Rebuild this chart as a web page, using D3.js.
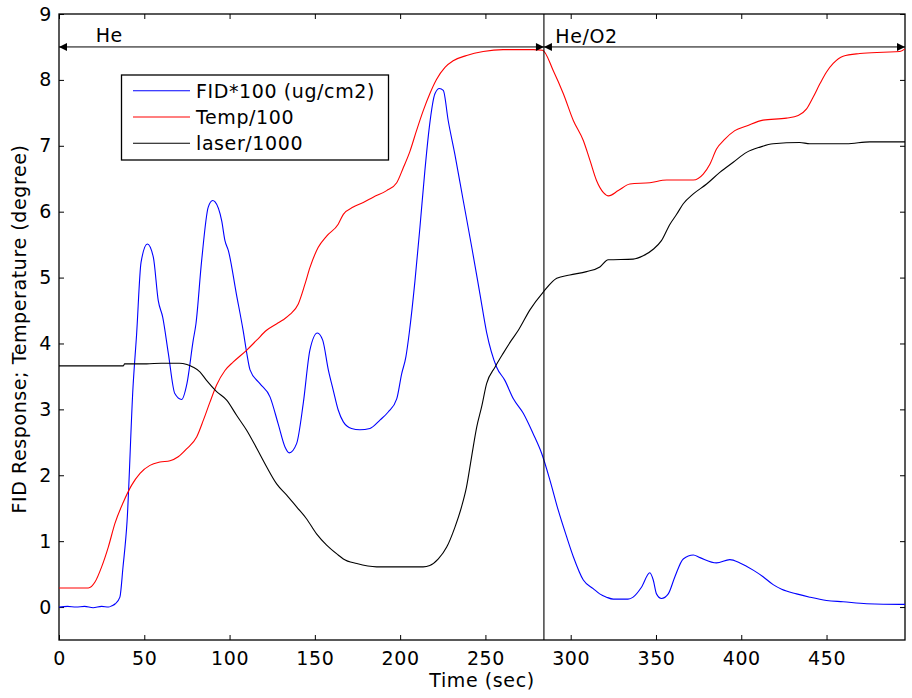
<!DOCTYPE html>
<html>
<head>
<meta charset="utf-8">
<script src="https://cdn.jsdelivr.net/npm/d3@7/dist/d3.min.js"></script>
<style>
  html, body { margin: 0; padding: 0; background: #fff; }
  svg text { font-family: "DejaVu Sans", Verdana, sans-serif; letter-spacing: 0.6px; }
</style>
</head>
<body>
<svg id="chart" width="912" height="698"></svg>
<script>
// ---- Data ----
const fidTime = [0,5,10,15,20,25,29,31,33,35.7,37.5,39.9,43.4,45.5,48.1,51.8,55.3,58.2,60.8,64.1,67.9,71.9,75,78.7,80.3,83.6,87.5,90.1,91.5,95.4,97.3,99.3,104,108,110.1,112,117.8,123.7,128.5,132.5,135,139.3,143.2,147.1,151.5,154.6,157.9,160.8,163.7,166.7,171.5,176.4,182.3,188.3,193,198,200.9,203.4,205.4,208.7,211.6,214.5,217.1,220.4,223,225.3,228.2,232.1,237,242,246.8,250.7,256.6,261.4,266.4,272.2,278,283,287.9,292.7,297.7,301.6,307.4,313.2,317,321,325,333.6,336.6,341.5,346.4,348.4,350.3,353.2,357.2,361.1,366,371.9,375.8,385.5,393.3,399.2,407,412.8,418.7,423.7,432.4,440.2,450,459.7,473.5,493,496];
const fidValue = [0,0.01,0,0.01,-0.01,0.01,0,0.02,0.05,0.15,0.6,1.3,3.34,4.14,5.23,5.51,5.31,4.65,4.4,3.85,3.24,3.15,3.39,4.05,4.3,5.25,6.07,6.17,6.15,5.86,5.56,5.41,4.75,4.19,3.85,3.6,3.39,3.19,2.78,2.43,2.34,2.48,3.09,3.9,4.16,4.05,3.6,3.29,2.99,2.81,2.71,2.69,2.71,2.84,2.96,3.16,3.54,3.8,4.17,4.95,5.76,6.62,7.28,7.79,7.87,7.84,7.38,6.87,6.17,5.46,4.75,4.17,3.64,3.44,3.16,2.94,2.63,2.33,1.92,1.47,1.06,0.76,0.41,0.28,0.2,0.15,0.12,0.12,0.15,0.3,0.52,0.41,0.2,0.13,0.2,0.46,0.73,0.79,0.75,0.67,0.72,0.67,0.56,0.46,0.34,0.27,0.2,0.15,0.1,0.08,0.05,0.04,0.04];

const tempTime = [0,17.2,21.1,25,28.9,32.8,37.7,42.6,47.5,53.3,59.2,65.1,69.9,74.8,80.7,84.7,88.5,92.4,97.3,102.2,110.1,115.9,121.7,127.7,131.5,135.4,140.3,144.2,147.1,152,156.9,163.7,166.7,172.5,178.4,184.2,192.1,198,201.9,205.8,209.6,213.5,217.4,221.4,226.3,231.1,239,248.7,260.4,278,283.5,289.8,295.7,301.6,307.4,311.4,315.2,319.2,322.2,327.9,334.7,346.4,356.3,371.9,377.7,381.6,385.5,390.4,396.2,403.1,412.8,426.5,433.4,438.3,442.2,446.1,450,453.9,459.7,469.5,483.2,493,496];
const tempValue = [0.29,0.29,0.38,0.61,0.91,1.27,1.59,1.85,2.03,2.15,2.2,2.22,2.28,2.4,2.58,2.84,3.11,3.37,3.59,3.72,3.9,4.05,4.2,4.3,4.36,4.44,4.6,4.9,5.15,5.46,5.63,5.81,5.96,6.07,6.14,6.22,6.32,6.44,6.67,6.92,7.23,7.53,7.79,8.01,8.19,8.29,8.37,8.43,8.46,8.46,8.45,8.14,7.79,7.38,7.08,6.77,6.47,6.29,6.24,6.32,6.42,6.44,6.48,6.48,6.57,6.72,6.95,7.1,7.23,7.3,7.39,7.42,7.46,7.56,7.74,7.94,8.12,8.25,8.36,8.4,8.42,8.43,8.47];

const laserTime = [0,37.6,38.5,51.4,60,70.6,75,78.7,82.6,86.5,92.4,98.3,104.1,110.1,115.9,121.7,127.6,133.5,139.3,145.1,151,156.9,163.7,166.7,174.6,186.2,213.5,217.4,222.4,227.3,232.1,236,238.9,241.9,244.9,247.8,250.7,255.6,260.4,265.3,269.3,276.1,283.9,291.8,299.5,309.3,317.1,322,336.6,342.5,348.4,353.2,358.2,362.1,366,371.9,379.7,387.6,395.3,403.1,411,418.7,434.3,440.2,461.7,475.4,496];
const laserValue = [3.66,3.66,3.69,3.69,3.7,3.7,3.68,3.64,3.57,3.44,3.27,3.14,2.91,2.68,2.41,2.13,1.87,1.7,1.52,1.34,1.11,0.94,0.79,0.73,0.66,0.61,0.61,0.63,0.73,0.91,1.21,1.52,1.82,2.28,2.73,3.04,3.39,3.64,3.85,4.05,4.2,4.51,4.78,4.99,5.04,5.09,5.16,5.27,5.28,5.33,5.43,5.56,5.81,5.96,6.12,6.27,6.42,6.6,6.75,6.9,6.98,7.03,7.05,7.03,7.03,7.06,7.06];

const seriesNames = ["FID*100 (ug/cm2)", "Temp/100", "laser/1000"];
const seriesColors = ["#0000ff", "#ff0000", "#000000"];
const xTicks = [0,50,100,150,200,250,300,350,400,450];
const yTicks = [0,1,2,3,4,5,6,7,8,9];
const xDomain = [0, 496];
const yDomain = [-0.5, 9];
const switchTime = 284.3;   // He -> He/O2
const arrowLevel = 8.5;
const phaseLabels = ["He", "He/O2"];
const xLabel = "Time (sec)";
const yLabel = "FID Response; Temperature (degree)";

// ---- Layout ----
const svg = d3.select("#chart");
const L = 59, R = 905, T = 14, B = 640;
const x = d3.scaleLinear().domain(xDomain).range([L, R]);
const y = d3.scaleLinear().domain(yDomain).range([B, T]);
const FS = 19;

svg.append("rect").attr("width", 912).attr("height", 698).attr("fill", "#fff");

// axes
const gx = svg.append("g").attr("transform", `translate(0,${B})`)
  .call(d3.axisBottom(x).tickValues(xTicks).tickSize(-5).tickPadding(12).tickFormat(d3.format("d")));
const gxTop = svg.append("g").attr("transform", `translate(0,${T})`)
  .call(d3.axisTop(x).tickValues(xTicks).tickSize(-5).tickFormat(""));
const gy = svg.append("g").attr("transform", `translate(${L},0)`)
  .call(d3.axisLeft(y).tickValues(yTicks).tickSize(-5).tickPadding(7).tickFormat(d3.format("d")));
const gyR = svg.append("g").attr("transform", `translate(${R},0)`)
  .call(d3.axisRight(y).tickValues(yTicks).tickSize(-5).tickFormat(""));
[gx, gxTop, gy, gyR].forEach(g => {
  g.select(".domain").remove();
  g.selectAll("line").attr("stroke", "#000").attr("stroke-width", 1);
  g.selectAll("text").attr("fill", "#000").style("font-size", FS + "px");
});
gx.selectAll("text").attr("dy", "0.71em");

// box
svg.append("rect").attr("x", L).attr("y", T).attr("width", R - L).attr("height", B - T)
  .attr("fill", "none").attr("stroke", "#000").attr("stroke-width", 1.3);

// lines
const line = d3.line().x(d => x(d[0])).y(d => y(d[1])).curve(d3.curveMonotoneX);
const series = [
  d3.zip(fidTime, fidValue),
  d3.zip(tempTime, tempValue),
  d3.zip(laserTime, laserValue)
];
const clip = svg.append("clipPath").attr("id", "clip").append("rect")
  .attr("x", L).attr("y", T).attr("width", R - L).attr("height", B - T);
const plot = svg.append("g").attr("clip-path", "url(#clip)");
series.forEach((s, i) => {
  plot.append("path").datum(s).attr("d", line)
    .attr("fill", "none").attr("stroke", seriesColors[i]).attr("stroke-width", 1.1)
    .attr("stroke-linejoin", "round");
});

// vertical switch line
svg.append("line").attr("x1", x(switchTime)).attr("x2", x(switchTime))
  .attr("y1", T).attr("y2", B).attr("stroke", "#000").attr("stroke-width", 1.1);

// double arrows
function arrowHead(xt, yt, dir) {
  const len = 8, half = 4;
  svg.append("path")
    .attr("d", `M${xt},${yt} L${xt - dir * len},${yt - half} L${xt - dir * len},${yt + half} Z`)
    .attr("fill", "#000");
}
const ay = y(arrowLevel);
[[xDomain[0], switchTime], [switchTime, xDomain[1]]].forEach((seg, i) => {
  svg.append("line").attr("x1", x(seg[0])).attr("x2", x(seg[1]))
    .attr("y1", ay).attr("y2", ay).attr("stroke", "#000").attr("stroke-width", 1);
  arrowHead(x(seg[0]), ay, -1);
  arrowHead(x(seg[1]), ay, 1);
});
svg.append("text").attr("x", x(21.5)).attr("y", ay - 5).text(phaseLabels[0])
  .style("font-size", FS + "px");
svg.append("text").attr("x", x(291)).attr("y", ay - 4).text(phaseLabels[1])
  .style("font-size", FS + "px");

// legend
const lg = svg.append("g");
lg.append("rect").attr("x", 121.5).attr("y", 75).attr("width", 267).attr("height", 85)
  .attr("fill", "#fff").attr("stroke", "#000").attr("stroke-width", 1.3);
const rowsY = [90.7, 117, 143.3];
seriesNames.forEach((n, i) => {
  lg.append("line").attr("x1", 133).attr("x2", 190).attr("y1", rowsY[i]).attr("y2", rowsY[i])
    .attr("stroke", seriesColors[i]).attr("stroke-width", 1.1);
  lg.append("text").attr("x", 196).attr("y", rowsY[i]).attr("dy", "0.36em").text(n)
    .style("font-size", FS + "px");
});

// axis labels
svg.append("text").attr("x", (L + R) / 2).attr("y", 687).attr("text-anchor", "middle")
  .text(xLabel).style("font-size", FS + "px");
svg.append("text").attr("transform", `translate(26,${(T + B) / 2 + 2}) rotate(-90)`)
  .attr("text-anchor", "middle").text(yLabel).style("font-size", FS + "px");
</script>
</body>
</html>
